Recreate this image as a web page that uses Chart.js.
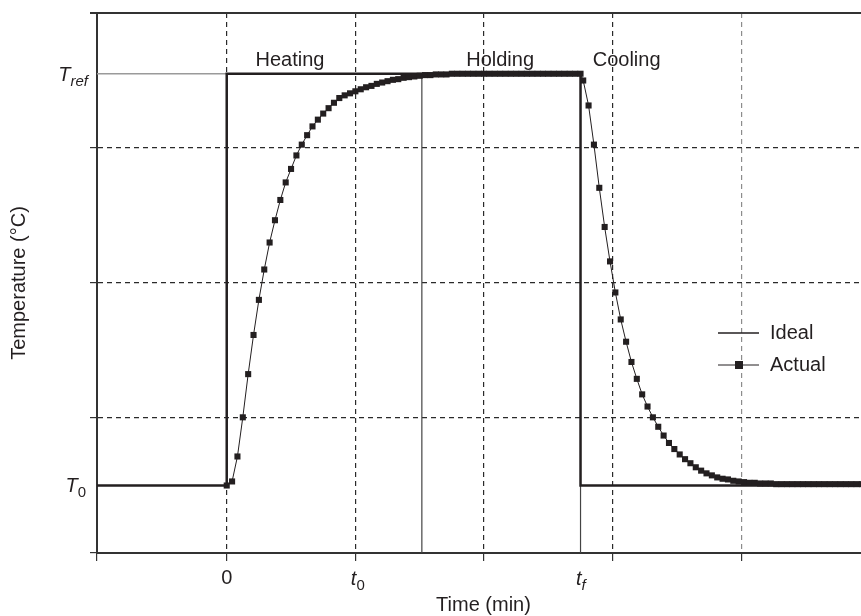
<!DOCTYPE html>
<html>
<head>
<meta charset="utf-8">
<script src="https://cdn.jsdelivr.net/npm/chart.js@4.4.1/dist/chart.umd.min.js"></script>
<style>
  html, body { margin: 0; padding: 0; background: #fff; overflow: hidden; }
  .c-wrap { width: 880px; height: 616px; position: relative; }
</style>
</head>
<body>
<div class="c-wrap"><canvas class="js-graph"></canvas></div>
<script>
// temperatures in degC, time in min
const T0 = 30;
const TREF = 91;
const t0 = 12;
const tf = 33;
const holdStart = 18.2;

const xGrid = [-12.1, 0, 12, 24, 36, 48, 60];

const idealTime = [-12.1, 0, 0, 33, 33, 60];
const idealTemp = [30, 30, 91, 91, 30, 30];

const heatTime = [0, 0.5, 1, 1.5, 2, 2.5, 3, 3.5, 4, 4.5, 5, 5.5, 6, 6.5, 7, 7.5, 8, 8.5, 9, 9.5,
  10, 10.5, 11, 11.5, 12, 12.5, 13, 13.5, 14, 14.5, 15, 15.5, 16, 16.5, 17, 17.5, 18, 18.5, 19, 19.5,
  20, 20.5, 21, 21.5, 22, 22.5, 23, 23.5, 24, 24.5, 25, 25.5, 26, 26.5, 27, 27.5, 28, 28.5, 29, 29.5,
  30, 30.5, 31, 31.5, 32, 32.5, 33];
const heatTemp = [30, 30.6, 34.3, 40.1, 46.5, 52.3, 57.5, 62.0, 66.0, 69.3, 72.3, 74.9, 76.9, 78.9, 80.5, 81.9, 83.2, 84.2, 85.1, 85.9,
  86.7, 87.4, 87.8, 88.1, 88.4, 88.7, 89.0, 89.2, 89.5, 89.7, 89.9, 90.1, 90.2, 90.4, 90.5, 90.6, 90.7, 90.8, 90.8, 90.9,
  90.9, 90.9, 91, 91, 91, 91, 91, 91, 91, 91, 91, 91, 91, 91, 91, 91, 91, 91, 91, 91,
  91, 91, 91, 91, 91, 91, 91];

const coolTime = [33.25, 33.75, 34.25, 34.75, 35.25, 35.75, 36.25, 36.75, 37.25, 37.75, 38.25, 38.75, 39.25, 39.75,
  40.25, 40.75, 41.25, 41.75, 42.25, 42.75, 43.25, 43.75, 44.25, 44.75, 45.25, 45.75, 46.25, 46.75, 47.25, 47.75,
  48.25, 48.75, 49.25, 49.75, 50.25, 50.75, 51.25, 51.75, 52.25, 52.75, 53.25, 53.75, 54.25, 54.75, 55.25, 55.75,
  56.25, 56.75, 57.25, 57.75, 58.25, 58.75, 59.25, 59.75];
const coolTemp = [90.0, 86.3, 80.5, 74.1, 68.3, 63.2, 58.6, 54.6, 51.3, 48.3, 45.8, 43.5, 41.7, 40.1,
  38.7, 37.4, 36.3, 35.4, 34.6, 33.9, 33.3, 32.7, 32.2, 31.8, 31.5, 31.2, 31.0, 30.9, 30.7, 30.6,
  30.5, 30.4, 30.4, 30.3, 30.3, 30.3, 30.2, 30.2, 30.2, 30.2, 30.2, 30.2, 30.2, 30.2, 30.2, 30.2,
  30.2, 30.2, 30.2, 30.2, 30.2, 30.2, 30.2, 30.2];

const phaseLabels = ['Heating', 'Holding', 'Cooling'];
const phaseLabelTime = [5.9, 25.5, 37.3];
const phaseLabelTemp = 93;

const ink = '#231f20';
const font = '"Liberation Sans", Arial, sans-serif';

const toPoints = (xs, ys) => xs.map((x, i) => ({x: x, y: ys[i]}));

const actualPoints = toPoints(heatTime.concat(coolTime), heatTemp.concat(coolTemp));

// custom text: subscripted tick labels, titles, phase names, legend
const labelPlugin = {
  id: 'labels',
  afterDraw(chart) {
    const ctx = chart.ctx;
    const xs = chart.scales.x;
    const ys = chart.scales.y;
    const area = chart.chartArea;
    ctx.save();

    // top frame line
    ctx.strokeStyle = '#333';
    ctx.lineWidth = 2;
    ctx.beginPath();
    ctx.moveTo(area.left - 7, area.top);
    ctx.lineTo(area.right, area.top);
    ctx.stroke();

    ctx.fillStyle = ink;
    ctx.textBaseline = 'alphabetic';

    // y labels T_ref and T_0
    const subLabel = (main, sub, mainFont, subFont, xRight, base, subDrop) => {
      ctx.font = mainFont;
      const w1 = ctx.measureText(main).width;
      ctx.font = subFont;
      const w2 = ctx.measureText(sub).width;
      let x = xRight - w1 - w2;
      ctx.textAlign = 'left';
      ctx.font = mainFont;
      ctx.fillText(main, x, base);
      ctx.font = subFont;
      ctx.fillText(sub, x + w1, base + subDrop);
    };
    const yRef = ys.getPixelForValue(TREF);
    const yT0 = ys.getPixelForValue(T0);
    subLabel('T', 'ref', 'italic 20px ' + font, 'italic 15px ' + font, area.left - 9, yRef + 7, 5);
    subLabel('T', '0', 'italic 20px ' + font, '15px ' + font, area.left - 11, yT0 + 6, 5);

    // x labels 0, t_0, t_f
    ctx.font = '20px ' + font;
    ctx.textAlign = 'center';
    ctx.fillText('0', xs.getPixelForValue(0), area.bottom + 31);
    const tLabel = (sub, subFont, val) => {
      const px = xs.getPixelForValue(val);
      ctx.font = 'italic 20px ' + font;
      const w1 = ctx.measureText('t').width;
      ctx.textAlign = 'left';
      ctx.fillText('t', px - w1 + 1, area.bottom + 32);
      ctx.font = subFont;
      ctx.fillText(sub, px + 1, area.bottom + 37);
    };
    tLabel('0', '15px ' + font, t0);
    tLabel('f', 'italic 15px ' + font, tf);

    // axis titles
    ctx.font = '20px ' + font;
    ctx.textAlign = 'center';
    ctx.textBaseline = 'middle';
    ctx.fillText('Time (min)', (area.left + area.right) / 2, 605);
    ctx.save();
    ctx.translate(19, (area.top + area.bottom) / 2);
    ctx.rotate(-Math.PI / 2);
    ctx.fillText('Temperature (\u00B0C)', 0, 0);
    ctx.restore();

    // phase names
    phaseLabels.forEach((txt, i) => {
      ctx.fillText(txt, xs.getPixelForValue(phaseLabelTime[i]), ys.getPixelForValue(phaseLabelTemp));
    });

    // legend
    ctx.textAlign = 'left';
    ctx.strokeStyle = ink;
    ctx.lineWidth = 1.6;
    ctx.beginPath();
    ctx.moveTo(718, 333);
    ctx.lineTo(759, 333);
    ctx.stroke();
    ctx.fillText('Ideal', 770, 333);
    ctx.lineWidth = 1;
    ctx.beginPath();
    ctx.moveTo(718, 365);
    ctx.lineTo(759, 365);
    ctx.stroke();
    ctx.fillRect(735, 361, 8, 8);
    ctx.fillText('Actual', 770, 365);

    ctx.restore();
  }
};

const config = {
  type: 'scatter',
  data: {
    datasets: [{
      label: 'Actual',
      data: actualPoints,
      showLine: true,
      borderColor: ink,
      borderWidth: 1,
      pointStyle: 'rect',
      pointRadius: 4.3,
      pointBackgroundColor: ink,
      pointBorderWidth: 0
    }, {
      label: 'Ideal',
      data: toPoints(idealTime, idealTemp),
      showLine: true,
      borderColor: ink,
      borderWidth: 2.5,
      pointRadius: 0
    }, {
      label: 'ref guide',
      data: toPoints([-12.1, 0], [TREF, TREF]),
      showLine: true,
      borderColor: '#9a9a9a',
      borderWidth: 1.3,
      pointRadius: 0
    }, {
      label: 'hold guide',
      data: toPoints([holdStart, holdStart], [20, TREF]),
      showLine: true,
      borderColor: '#444',
      borderWidth: 1.2,
      pointRadius: 0
    }, {
      label: 'tf guide',
      data: toPoints([tf, tf], [20, T0]),
      showLine: true,
      borderColor: '#444',
      borderWidth: 1.2,
      pointRadius: 0
    }]
  },
  options: {
    responsive: true,
    maintainAspectRatio: false,
    animation: false,
    layout: {
      padding: {top: 13, right: 10, left: 0, bottom: 0}
    },
    plugins: {
      legend: {display: false},
      tooltip: {enabled: false}
    },
    scales: {
      x: {
        type: 'linear',
        min: -12.1,
        max: 60,
        ticks: {display: false},
        afterBuildTicks: (scale) => { scale.ticks = xGrid.map(v => ({value: v})); },
        grid: {
          color: (c) => (c.tick && c.tick.value === 48) ? '#8c8c8c' : '#2a2a2a',
          lineWidth: 1.2,
          tickLength: 8,
          tickColor: '#333',
          tickBorderDash: []
        },
        border: {color: '#333', width: 2, dash: [5, 4]},
        afterFit: (scale) => { scale.height = 63; }
      },
      y: {
        min: 20,
        max: 100,
        ticks: {display: false, stepSize: 20},
        grid: {
          color: '#2a2a2a',
          lineWidth: 1.2,
          tickLength: 7,
          tickColor: '#333',
          tickBorderDash: []
        },
        border: {color: '#333', width: 2, dash: [5, 4]},
        afterFit: (scale) => { scale.width = 97; }
      }
    }
  },
  plugins: [labelPlugin]
};

document.addEventListener('DOMContentLoaded', function() {
  const graph = document.querySelector('.js-graph').getContext('2d');
  new Chart(graph, config);
});
</script>
</body>
</html>
